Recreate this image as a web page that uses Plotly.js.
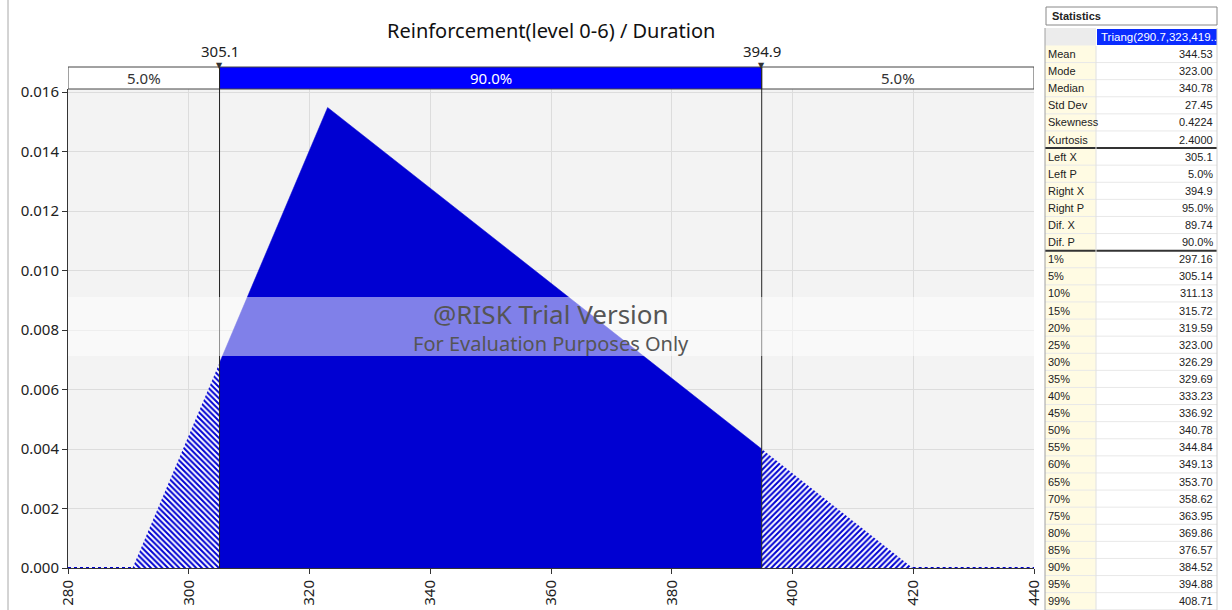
<!DOCTYPE html>
<html>
<head>
<meta charset="utf-8">
<script src="https://cdn.plot.ly/plotly-3.0.1.min.js"></script>
<style>
html,body{margin:0;padding:0;background:#fff;}
#chart{width:1232px;height:610px;}
</style>
</head>
<body>
<div id="chart"></div>
<script>
// ---------- data ----------
var chartTitle = "Reinforcement(level 0-6) / Duration";
var curveX = [280, 290.7, 305.1, 323, 394.9, 419.9, 440];
var curveY = [0, 0, 0.0069, 0.01548, 0.0040, 0, 0];
var leftX = 305.1, rightX = 394.9;
var leftP = "5.0%", midP = "90.0%", rightP = "5.0%";
var xTicks = [280, 300, 320, 340, 360, 380, 400, 420, 440];
var yTicks = [0, 0.002, 0.004, 0.006, 0.008, 0.010, 0.012, 0.014, 0.016];
var distName = "Triang(290.7,323,419..";
var statLabels1 = ["Mean","Mode","Median","Std Dev","Skewness","Kurtosis"];
var statValues1 = ["344.53","323.00","340.78","27.45","0.4224","2.4000"];
var statLabels2 = ["Left X","Left P","Right X","Right P","Dif. X","Dif. P"];
var statValues2 = ["305.1","5.0%","394.9","95.0%","89.74","90.0%"];
var pctLabels = ["1%","5%","10%","15%","20%","25%","30%","35%","40%","45%","50%","55%","60%","65%","70%","75%","80%","85%","90%","95%","99%"];
var pctValues = ["297.16","305.14","311.13","315.72","319.59","323.00","326.29","329.69","333.23","336.92","340.78","344.84","349.13","353.70","358.62","363.95","369.86","376.57","384.52","394.88","408.71"];

// ---------- geometry helpers (pixel -> paper) ----------
var W = 1232, H = 610;
function px(x){ return x / W; }
function py(y){ return 1 - y / H; }
var plotL = 68, plotR = 1034, plotT = 89, plotB = 568;

var mainBlue = "#0000d2";
var barBlue = "#0000ff";
var tickFont = {family: "Noto Sans, DejaVu Sans, sans-serif", size: 15, color: "#222"};
var tblFont = {family: "Liberation Sans, Arial, sans-serif", size: 11, color: "#222"};

// ---------- traces ----------
function slice(a, i, j){ return a.slice(i, j + 1); }
var iL = curveX.indexOf(leftX), iR = curveX.indexOf(rightX);
var traces = [
  { // left hatched tail
    x: slice(curveX, 1, iL), y: slice(curveY, 1, iL), type: "scatter", mode: "lines",
    fill: "tozeroy", fillcolor: "#ffffff",
    fillpattern: {shape: "\\", fgcolor: mainBlue, bgcolor: "#ffffff", size: 4, solidity: 0.5},
    line: {width: 0, color: mainBlue}, hoverinfo: "skip", showlegend: false
  },
  { // central 90%
    x: slice(curveX, iL, iR), y: slice(curveY, iL, iR), type: "scatter", mode: "lines",
    fill: "tozeroy", fillcolor: mainBlue, line: {width: 0.5, color: mainBlue},
    hoverinfo: "skip", showlegend: false
  },
  { // right hatched tail
    x: slice(curveX, iR, 5), y: slice(curveY, iR, 5), type: "scatter", mode: "lines",
    fill: "tozeroy", fillcolor: "#ffffff",
    fillpattern: {shape: "/", fgcolor: mainBlue, bgcolor: "#ffffff", size: 4, solidity: 0.5},
    line: {width: 0, color: mainBlue}, hoverinfo: "skip", showlegend: false
  },
  { // zero baseline left
    x: slice(curveX, 0, 1), y: slice(curveY, 0, 1), type: "scatter", mode: "lines",
    line: {width: 2, color: mainBlue, dash: "dot"}, hoverinfo: "skip", showlegend: false, cliponaxis: false
  },
  { // zero baseline right
    x: slice(curveX, 5, 6), y: slice(curveY, 5, 6), type: "scatter", mode: "lines",
    line: {width: 2, color: mainBlue, dash: "dot"}, hoverinfo: "skip", showlegend: false, cliponaxis: false
  }
];

// ---------- shapes & annotations ----------
var shapes = [];
var ann = [];
function addAnn(o){
  if (!o.xanchor) o.xanchor = "center";
  if (!o.yanchor) o.yanchor = "middle";
  o.showarrow = false;
  ann.push(o);
}

// left panel border
shapes.push({type: "line", xref: "paper", yref: "paper", x0: px(8), x1: px(8), y0: 0, y1: 1,
  line: {color: "#a8a8a8", width: 1}});

// top percent bar
var barT = py(67), barB = py(89);
shapes.push({type: "rect", xref: "x", yref: "paper", x0: xTicks[0], x1: leftX, y0: barB, y1: barT,
  fillcolor: "#ffffff", line: {color: "#444", width: 1}});
shapes.push({type: "rect", xref: "x", yref: "paper", x0: leftX, x1: rightX, y0: barB, y1: barT,
  fillcolor: barBlue, line: {color: "#444", width: 1}});
shapes.push({type: "rect", xref: "x", yref: "paper", x0: rightX, x1: xTicks[xTicks.length-1], y0: barB, y1: barT,
  fillcolor: "#ffffff", line: {color: "#444", width: 1}});
var barMid = py(78);
addAnn({xref: "x", yref: "paper", x: (xTicks[0] + leftX) / 2, y: barMid, text: leftP,
  font: {family: tickFont.family, size: 15, color: "#333"}});
addAnn({xref: "x", yref: "paper", x: (leftX + rightX) / 2, y: barMid, text: midP,
  font: {family: tickFont.family, size: 15, color: "#ffffff"}});
addAnn({xref: "x", yref: "paper", x: (rightX + xTicks[xTicks.length-1]) / 2, y: barMid, text: rightP,
  font: {family: tickFont.family, size: 15, color: "#333"}});

// delimiter lines + labels + triangles
[leftX, rightX].forEach(function(v){
  shapes.push({type: "line", xref: "x", yref: "paper", x0: v, x1: v, y0: py(plotB), y1: barT,
    line: {color: "#222", width: 1}});
  addAnn({xref: "x", yref: "paper", x: v, y: py(51), text: v.toFixed(1),
    font: {family: tickFont.family, size: 15, color: "#222"}});
  addAnn({xref: "x", yref: "paper", x: v, y: py(65), text: "▼",
    font: {family: "DejaVu Sans, sans-serif", size: 8, color: "#333"}});
});

// watermark band
shapes.push({type: "rect", xref: "paper", yref: "paper", x0: px(plotL), x1: px(plotR), y0: py(356), y1: py(297),
  fillcolor: "#ffffff", opacity: 0.5, line: {width: 0}, layer: "above"});
addAnn({xref: "paper", yref: "paper", x: px(551), y: py(314), text: "@RISK Trial Version",
  font: {family: "Noto Sans, Open Sans, sans-serif", size: 26, color: "#555"}});
addAnn({xref: "paper", yref: "paper", x: px(551), y: py(343), text: "For Evaluation Purposes Only",
  font: {family: "Noto Sans, Open Sans, sans-serif", size: 20, color: "#555"}});

// title
addAnn({xref: "paper", yref: "paper", x: px((plotL + plotR) / 2), y: py(30), text: chartTitle,
  font: {family: "Noto Sans, Open Sans, sans-serif", size: 20, color: "#111"}});

// ---------- statistics table ----------
var tL = 1045, tM = 1096, tR = 1217;
shapes.push({type: "rect", xref: "paper", yref: "paper", x0: px(tL + 1), x1: px(tR), y0: py(25), y1: py(7),
  fillcolor: "#ffffff", line: {color: "#888", width: 1}});
addAnn({xref: "paper", yref: "paper", x: px(tL + 5), y: py(16), xanchor: "left", text: "<b>Statistics</b>",
  font: tblFont});
// header row
shapes.push({type: "rect", xref: "paper", yref: "paper", x0: px(tL), x1: px(tM), y0: py(46), y1: py(28),
  fillcolor: "#ececec", line: {width: 0}});
shapes.push({type: "rect", xref: "paper", yref: "paper", x0: px(tM + 1), x1: px(tR), y0: py(45), y1: py(29),
  fillcolor: "#0a2cff", line: {width: 0}});
addAnn({xref: "paper", yref: "paper", x: px(tM + 3), y: py(37), xanchor: "left", text: distName,
  font: {family: tblFont.family, size: 11.5, color: "#ffffff"}});

var rowH = 17.1, row0 = 54;
var labels = statLabels1.concat(statLabels2, pctLabels);
var values = statValues1.concat(statValues2, pctValues);
var tableTop = row0 - rowH / 2, tableBot = row0 + (labels.length - 0.5) * rowH;
shapes.push({type: "rect", xref: "paper", yref: "paper", x0: px(tL), x1: px(tM), y0: py(Math.min(tableBot, 610)), y1: py(tableTop),
  fillcolor: "#fffbe3", line: {width: 0}});
shapes.push({type: "rect", xref: "paper", yref: "paper", x0: px(tM), x1: px(tR), y0: py(Math.min(tableBot, 610)), y1: py(tableTop),
  fillcolor: "#ffffff", line: {width: 0}});
labels.forEach(function(lab, i){
  var yc = row0 + i * rowH;
  addAnn({xref: "paper", yref: "paper", x: px(tL + 1), y: py(yc), xanchor: "left", text: lab, font: tblFont});
  addAnn({xref: "paper", yref: "paper", x: px(tR - 2), y: py(yc), xanchor: "right", text: values[i], font: tblFont});
  var yb = yc + rowH / 2;
  var thick = (i === statLabels1.length - 1) || (i === statLabels1.length + statLabels2.length - 1);
  if (yb < 610) {
    shapes.push({type: "line", xref: "paper", yref: "paper", x0: px(tL), x1: px(tR), y0: py(yb), y1: py(yb),
      line: {color: thick ? "#333" : "#e8e8e8", width: thick ? 2 : 1}});
  }
});
shapes.push({type: "line", xref: "paper", yref: "paper", x0: px(tL), x1: px(tL), y0: 0, y1: py(28),
  line: {color: "#a0a0a0", width: 1}});
shapes.push({type: "line", xref: "paper", yref: "paper", x0: px(tM), x1: px(tM), y0: 0, y1: py(46),
  line: {color: "#e0e0e0", width: 1}});
shapes.push({type: "line", xref: "paper", yref: "paper", x0: px(tR), x1: px(tR), y0: 0, y1: py(28),
  line: {color: "#d0d0d0", width: 1}});

// ---------- layout ----------
var layout = {
  width: W, height: H,
  margin: {l: 0, r: 0, t: 0, b: 0},
  paper_bgcolor: "#ffffff",
  plot_bgcolor: "#f3f3f3",
  showlegend: false,
  xaxis: {
    domain: [px(plotL), px(plotR)],
    range: [xTicks[0], xTicks[xTicks.length - 1]],
    tickvals: xTicks, ticktext: xTicks.map(String),
    tickangle: -90, ticks: "outside", ticklen: 5, tickcolor: "#333",
    showgrid: true, gridcolor: "#dcdcdc", gridwidth: 1,
    showline: true, linecolor: "#333", linewidth: 1,
    zeroline: false, tickfont: tickFont, fixedrange: true
  },
  yaxis: {
    domain: [py(plotB), py(plotT)],
    range: [0, (plotB - plotT) / ((plotB - 92) / 0.016)],
    tickvals: yTicks, ticktext: yTicks.map(function(v){ return v.toFixed(3); }),
    ticks: "outside", ticklen: 5, tickcolor: "#333",
    showgrid: true, gridcolor: "#dcdcdc", gridwidth: 1,
    showline: true, linecolor: "#333", linewidth: 1,
    zeroline: false, tickfont: tickFont, fixedrange: true
  },
  shapes: shapes,
  annotations: ann
};

Plotly.newPlot("chart", traces, layout, {displayModeBar: false, staticPlot: true});
</script>
</body>
</html>
